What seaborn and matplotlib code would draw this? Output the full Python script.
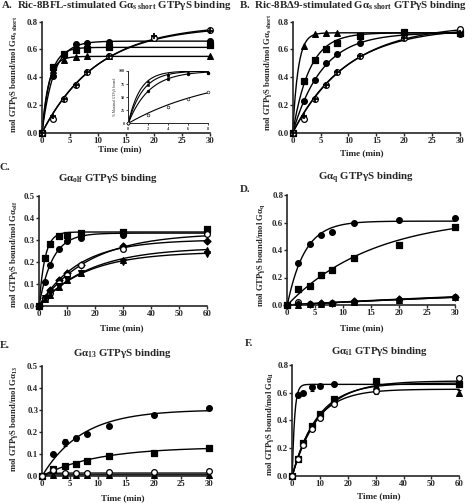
import numpy as np
import pandas as pd
import matplotlib
matplotlib.use("Agg")
import matplotlib.pyplot as plt
import seaborn as sns

# ---------------- data ----------------
nan = np.nan
# Panel A  (Ric-8BFL-stimulated Gas short)
A_time = [0, 2, 4, 6, 8, 12, 20, 30]
A_circle = [0, 0.41, 0.56, 0.64, 0.65, 0.655, nan, 0.66]
A_square = [0, 0.475, 0.565, 0.595, 0.60, 0.615, nan, 0.63]
A_triangle = [0, 0.45, 0.525, 0.545, 0.55, 0.55, nan, 0.55]
A_open = [0, 0.10, 0.24, 0.345, 0.44, 0.55, 0.68, 0.74]
A_cross = [0, 0.12, 0.245, 0.345, 0.44, 0.55, 0.695, 0.735]
A_fit_plateau = [0.66, 0.615, 0.55, 0.78, 0.77]
A_fit_rate = [0.48, 0.68, 0.85, 0.10, 0.102]
# Inset of A (% maximal)
IN_time = [0, 2, 4, 6, 8]
IN_circle = [0, 62, 84, 95, 97]
IN_square = [0, 74, 90, 96, 97]
IN_triangle = [0, 80, 94, 97, 98]
IN_open = [0, 15, 32, 46, 59]
IN_fit_rate = [0.48, 0.68, 0.85, 0.11]

# Panel B  (Ric-8BD9-stimulated Gas short)
B_time = [0, 2, 4, 6, 8, 12, 20, 30]
B_triangle = [0, 0.627, 0.71, 0.715, 0.715, nan, nan, nan]
B_square = [0, 0.375, 0.524, 0.60, 0.65, 0.70, 0.723, 0.72]
B_circle = [0, 0.23, 0.38, 0.50, 0.565, 0.65, 0.71, 0.71]
B_open = [0, 0.10, 0.24, 0.345, 0.44, 0.553, 0.68, 0.745]
B_cross = [0, 0.12, 0.245, 0.345, 0.44, 0.55, 0.685, 0.72]
B_fit_plateau = [0.72, 0.72, 0.72, 0.78, 0.76]
B_fit_rate = [1.02, 0.33, 0.19, 0.10, 0.105]

# Panel C  (Gaolf)
C_time = [0, 2, 4, 7, 10, 15, 30, 60]
C_square = [0, 0.215, 0.28, 0.317, 0.32, 0.332, 0.336, 0.35]
C_circle = [0, 0.11, 0.185, 0.258, 0.294, 0.31, 0.32, 0.336]
C_diamond = [0, 0.035, 0.07, 0.115, 0.148, 0.185, 0.27, 0.295]
C_open = [0, 0.03, 0.06, 0.105, 0.14, 0.185, 0.26, 0.325]
C_triangle = [0, 0.03, 0.05, 0.085, 0.115, 0.15, 0.21, 0.255]
C_down = [0, 0.035, 0.06, 0.09, 0.12, 0.15, 0.20, 0.235]
C_fit_plateau = [0.335, 0.33, 0.30, 0.33, 0.265, 0.245]
C_fit_rate = [0.48, 0.21, 0.07, 0.055, 0.055, 0.06]

# Panel D  (Gaq)
D_time = [0, 2, 4, 6, 8, 12, 20, 30]
D_circle = [0, 0.308, 0.444, 0.51, 0.53, 0.594, 0.615, 0.63]
D_square = [0, 0.114, 0.138, 0.218, 0.255, 0.34, 0.435, 0.565]
D_square_err = [0, 0, 0, 0.02, 0, 0, 0, 0]
D_open = [0, 0.02, 0.005, 0.01, 0.015, 0.025, 0.04, 0.055]
D_triangle = [0, 0.003, 0.005, 0.01, 0.015, 0.025, 0.04, 0.055]
D_diamond = [0, 0.005, 0.008, 0.012, 0.018, 0.028, 0.045, 0.06]
D_fit_plateau = [0.61, 0.65, 0.2, 0.2, 0.2]
D_fit_rate = [0.32, 0.065, 0.011, 0.011, 0.012]

# Panel E  (Ga13)
E_time = [0, 2, 4, 6, 8, 12, 20, 30]
E_circle = [0, 0.098, 0.152, 0.17, 0.188, 0.227, 0.276, 0.306]
E_circle_err = [0, 0, 0.015, 0.01, 0, 0, 0.008, 0]
E_square = [0, 0.032, 0.045, 0.055, 0.068, 0.09, 0.105, 0.127]
E_open = [0, 0.028, 0.012, 0.012, 0.012, 0.015, 0.015, 0.02]
E_triangle = [0, 0.005, 0.003, 0.003, 0.003, 0.003, 0.003, 0.003]
E_fit_plateau = [0.30, 0.13, 0.012, 0.004]
E_fit_rate = [0.14, 0.10, 1.0, 1.0]

# Panel F  (Gai1)
F_time = [0, 2, 4, 7, 10, 15, 30, 60]
F_circle = [0, 0.583, 0.595, 0.64, 0.648, 0.66, 0.68, nan]
F_circle_err = [0, 0, 0, 0.025, 0, 0.015, 0, 0]
F_square = [0, 0.12, 0.238, 0.36, 0.443, 0.554, 0.684, 0.66]
F_triangle = [0, 0.13, 0.235, 0.35, 0.435, 0.54, 0.65, 0.60]
F_triangle_err = [0, 0, 0, 0, 0, 0, 0, 0.02]
F_open = [0, 0.12, 0.22, 0.335, 0.42, 0.52, 0.615, 0.705]
F_open_err = [0, 0, 0, 0, 0, 0, 0.025, 0]
F_fit_plateau = [0.66, 0.67, 0.625, 0.685]
F_fit_rate = [1.2, 0.11, 0.12, 0.10]

# ---------------- style ----------------
sns.set_style("ticks")
plt.rcParams["font.family"] = ["Liberation Serif", "DejaVu Serif"]
plt.rcParams["font.weight"] = "bold"
plt.rcParams["mathtext.fontset"] = "custom"
plt.rcParams["mathtext.rm"] = "Liberation Serif:bold"
plt.rcParams["mathtext.it"] = "Liberation Serif:bold:italic"
plt.rcParams["mathtext.bf"] = "Liberation Serif:bold"

W, H = 477, 503
fig = plt.figure(figsize=(W / 100, H / 100), dpi=100)


def add_ax(l, r, t, b):
    return fig.add_axes([l / W, 1 - b / H, (r - l) / W, (b - t) / H])


def txt(x, y, s, **kw):
    fig.text(x / W, 1 - y / H, s, **kw)


STY = {
    "circle": ("o", "black"),
    "square": ("s", "black"),
    "triangle": ("^", "black"),
    "open": ("o", "white"),
    "diamond": ("D", "black"),
    "down": ("v", "black"),
    "cross": ("+", "black"),
}


def draw(ax, time, series, plateaus, rates, xmax, ymax, xticks, yticks,
         yfmt="{:.1f}", msize=17, lw=1.0, errs=None, labelsize=6.3):
    tf = np.linspace(0, xmax, 400)
    for P, k in zip(plateaus, rates):
        df = pd.DataFrame({"t": tf, "y": P * (1 - np.exp(-k * tf))})
        sns.lineplot(data=df, x="t", y="y", ax=ax, color="black", lw=lw,
                     legend=False, clip_on=False, zorder=2)
    errs = errs or {}
    for name, vals in series:
        m, fc = STY[name]
        if name in errs:
            ax.errorbar(time, vals, yerr=errs[name], fmt="none", ecolor="black",
                        elinewidth=0.8, capsize=1.5, capthick=0.8, zorder=2.5,
                        clip_on=False)
        df = pd.DataFrame({"t": time, "y": vals}).dropna()
        if m == "+":
            sns.scatterplot(data=df, x="t", y="y", ax=ax, marker="+", s=20,
                            color="black", linewidth=1.3, legend=False,
                            clip_on=False, zorder=3.5)
            continue
        sz = msize * (0.75 if m == "D" else 1.0)
        sns.scatterplot(data=df, x="t", y="y", ax=ax, marker=m, s=sz,
                        color=fc, edgecolor="black", linewidth=0.9,
                        legend=False, clip_on=False, zorder=3)
    ax.set_xlim(0, xmax)
    ax.set_ylim(0, ymax)
    ax.set_xticks(xticks)
    ax.set_yticks(yticks)
    ax.set_yticklabels([yfmt.format(v) for v in yticks])
    ax.set_xticklabels([str(v) for v in xticks])
    ax.set_xlabel("")
    ax.set_ylabel("")
    sns.despine(ax=ax)
    for s in ("left", "bottom"):
        ax.spines[s].set_linewidth(1.2)
    ax.tick_params(width=1.0, length=2.2, labelsize=labelsize, pad=0.8)


# ---------------- Panel A ----------------
axA = add_ax(42, 210, 21.7, 132.7)
draw(axA, A_time,
     [("circle", A_circle), ("square", A_square), ("triangle", A_triangle),
      ("open", A_open), ("cross", A_cross)],
     A_fit_plateau, A_fit_rate, 30, 0.8, [0, 5, 10, 15, 20, 25, 30],
     [0.0, 0.2, 0.4, 0.6, 0.8])

axI = add_ax(128.3, 208.3, 71, 123.3)
tfi = np.linspace(0, 8, 200)
for k in IN_fit_rate:
    sns.lineplot(x=tfi, y=100 * (1 - np.exp(-k * tfi)), ax=axI, color="black",
                 lw=0.8, legend=False)
for name, vals in [("circle", IN_circle), ("square", IN_square),
                   ("triangle", IN_triangle), ("open", IN_open)]:
    m, fc = STY[name]
    sns.scatterplot(x=IN_time, y=vals, ax=axI, marker=m, s=4, color=fc,
                    edgecolor="black", linewidth=0.4, legend=False,
                    clip_on=False, zorder=3)
axI.set_xlim(0, 8)
axI.set_ylim(0, 100)
axI.set_xticks([0, 2, 4, 6, 8])
axI.set_yticks([0, 25, 50, 75, 100])
sns.despine(ax=axI)
for s in ("left", "bottom"):
    axI.spines[s].set_linewidth(0.7)
axI.tick_params(width=0.6, length=1.5, labelsize=3, pad=1)
axI.set_ylabel("% Maximal GTPγS bound", fontsize=2.6, labelpad=1)

# ---------------- Panel B ----------------
axB = add_ax(292.7, 460, 21.7, 132.7)
draw(axB, B_time,
     [("triangle", B_triangle), ("square", B_square), ("circle", B_circle),
      ("open", B_open), ("cross", B_cross)],
     B_fit_plateau, B_fit_rate, 30, 0.8, [0, 5, 10, 15, 20, 25, 30],
     [0.0, 0.2, 0.4, 0.6, 0.8])

# ---------------- Panel C ----------------
axC = add_ax(39, 207, 195.7, 305.7)
draw(axC, C_time,
     [("square", C_square), ("circle", C_circle), ("diamond", C_diamond),
      ("open", C_open), ("triangle", C_triangle), ("down", C_down)],
     C_fit_plateau, C_fit_rate, 60, 0.5, [0, 10, 20, 30, 40, 50, 60],
     [0.0, 0.1, 0.2, 0.3, 0.4, 0.5])

# ---------------- Panel D ----------------
axD = add_ax(287.3, 455, 195, 305)
draw(axD, D_time,
     [("circle", D_circle), ("square", D_square), ("open", D_open),
      ("triangle", D_triangle), ("diamond", D_diamond)],
     D_fit_plateau, D_fit_rate, 30, 0.8, [0, 5, 10, 15, 20, 25, 30],
     [0.0, 0.2, 0.4, 0.6, 0.8], errs={"square": D_square_err})

# ---------------- Panel E ----------------
axE = add_ax(42.3, 209.3, 365.7, 475.7)
draw(axE, E_time,
     [("circle", E_circle), ("square", E_square), ("triangle", E_triangle),
      ("open", E_open)],
     E_fit_plateau, E_fit_rate, 30, 0.5, [0, 5, 10, 15, 20, 25, 30],
     [0.0, 0.1, 0.2, 0.3, 0.4, 0.5], errs={"circle": E_circle_err})

# ---------------- Panel F ----------------
axF = add_ax(292.3, 459.3, 365, 475.7)
draw(axF, F_time,
     [("circle", F_circle), ("square", F_square), ("triangle", F_triangle),
      ("open", F_open)],
     F_fit_plateau, F_fit_rate, 60, 0.8, [0, 10, 20, 30, 40, 50, 60],
     [0.0, 0.2, 0.4, 0.6, 0.8],
     errs={"circle": F_circle_err, "triangle": F_triangle_err, "open": F_open_err})

# ---------------- texts ----------------
TS = 7.8
txt(1, 6, r"A.  Ric-8BFL-stimulated Gα$_{\mathrm{s\ short}}$ GTPγS binding",
    fontsize=TS, ha="left", va="center")
txt(239, 6, r"B.  Ric-8BΔ9-stimulated Gα$_{\mathrm{s\ short}}$ GTPγS binding",
    fontsize=TS, ha="left", va="center")
txt(0, 168, "C.", fontsize=TS, ha="left", va="center")
txt(108, 178, r"Gα$_{\mathrm{olf}}$ GTPγS binding", fontsize=TS, ha="center", va="center")
txt(240, 190, "D.", fontsize=TS, ha="left", va="center")
txt(366, 178, r"Gα$_{\mathrm{q}}$ GTPγS binding", fontsize=TS, ha="center", va="center")
txt(0, 345, "E.", fontsize=TS, ha="left", va="center")
txt(122, 353, r"Gα$_{\mathrm{13}}$ GTPγS binding", fontsize=TS, ha="center", va="center")
txt(245, 343, "F.", fontsize=TS, ha="left", va="center")
txt(380, 352, r"Gα$_{\mathrm{i1}}$ GTPγS binding", fontsize=TS, ha="center", va="center")

YS = 6.2
txt(14, 74, r"mol GTPγS bound/mol Gα$_{\mathrm{s\ short}}$", fontsize=YS,
    rotation=90, ha="center", va="center")
txt(268, 72, r"mol GTPγS bound/mol Gα$_{\mathrm{s\ short}}$", fontsize=YS,
    rotation=90, ha="center", va="center")
txt(14, 254, r"mol GTPγS bound/mol Gα$_{\mathrm{olf}}$", fontsize=YS,
    rotation=90, ha="center", va="center")
txt(261, 255, r"mol GTPγS bound/mol Gα$_{\mathrm{q}}$", fontsize=YS,
    rotation=90, ha="center", va="center")
txt(14, 419, r"mol GTPγS bound/mol Gα$_{\mathrm{13}}$", fontsize=YS,
    rotation=90, ha="center", va="center")
txt(270, 424, r"mol GTPγS bound/mol Gα$_{\mathrm{i1}}$", fontsize=YS,
    rotation=90, ha="center", va="center")

XS = 6.6
for (x, y) in [(120, 149), (362, 153), (122, 328), (362, 328), (123, 498), (379, 496)]:
    txt(x, y, "Time (min)", fontsize=XS, ha="center", va="center")

fig.savefig("out.png", dpi=100)
